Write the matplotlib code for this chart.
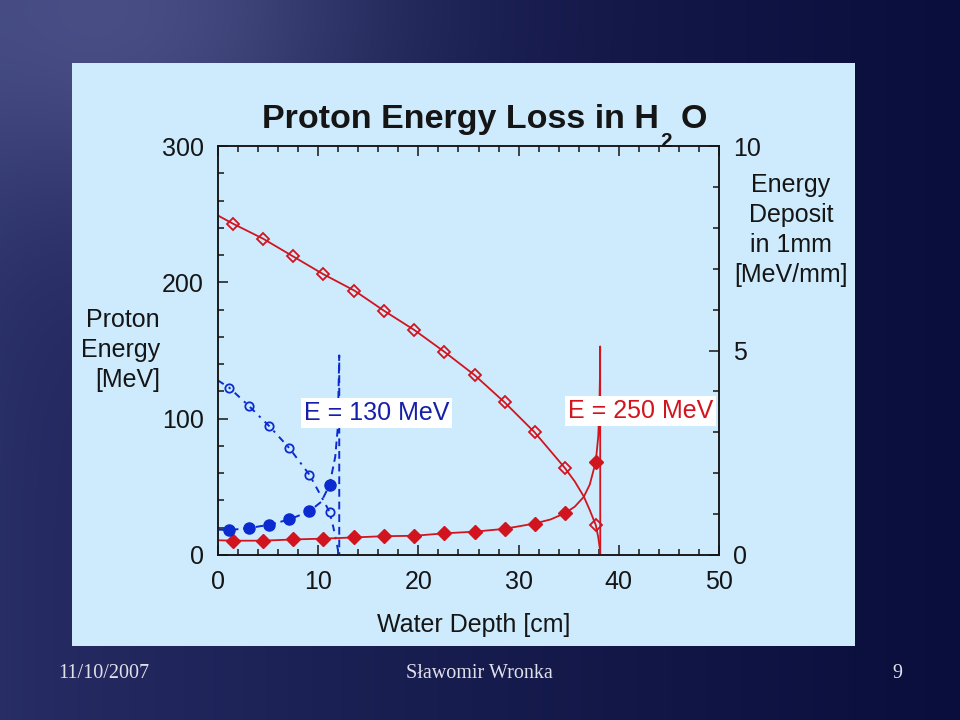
import numpy as np
import matplotlib
matplotlib.use("Agg")
import matplotlib.pyplot as plt
from matplotlib.patches import Rectangle
from matplotlib.ticker import MultipleLocator

plt.rcParams['font.family'] = ['Liberation Sans', 'DejaVu Sans']

# ---------------- data ----------------
depth_ticks = [0, 10, 20, 30, 40, 50]
energy_ticks = [0, 100, 200, 300]
deposit_ticks = [0, 5, 10]

# 250 MeV proton: residual energy [MeV] vs depth [cm]
e250_depth = [0, 1.5, 4.5, 7.5, 10.5, 13.6, 16.6, 19.6, 22.6, 25.6, 28.6,
              31.6, 34.6, 35.6, 36.5, 37.1, 37.7, 37.95, 38.1, 38.15]
e250_energy = [249, 243, 232, 219, 206, 194, 179, 165, 149, 132, 112,
               90, 64, 54, 43, 33, 22, 13, 5, 0]
e250_mark_depth = [1.5, 4.5, 7.5, 10.5, 13.6, 16.6, 19.6, 22.6, 25.6, 28.6,
                   31.6, 34.6, 37.7]
e250_mark_energy = [243, 232, 219, 206, 194, 179, 165, 149, 132, 112,
                    90, 64, 22]

# 250 MeV proton: energy deposit [MeV/mm]
d250_depth = [0, 1.5, 4.5, 7.5, 10.5, 13.6, 16.6, 19.6, 22.6, 25.6, 28.6,
              31.6, 33.2, 34.6, 35.6, 36.5, 37.1, 37.7, 37.95, 38.06, 38.12,
              38.14, 38.15]
d250_deposit = [0.36, 0.35, 0.35, 0.38, 0.40, 0.43, 0.46, 0.47, 0.53, 0.57,
                0.64, 0.77, 0.87, 1.02, 1.18, 1.42, 1.72, 2.28, 2.9, 3.6,
                4.4, 5.1, 0]
d250_mark_depth = [1.5, 4.5, 7.5, 10.5, 13.6, 16.6, 19.6, 22.6, 25.6, 28.6,
                   31.6, 34.6, 37.7]
d250_mark_deposit = [0.35, 0.35, 0.38, 0.40, 0.43, 0.46, 0.47, 0.53, 0.57,
                     0.64, 0.77, 1.02, 2.28]

# 130 MeV proton: residual energy [MeV]
e130_depth = [0, 1.13, 3.13, 5.13, 7.13, 9.13, 10.6, 11.13, 11.5, 11.85, 12.05]
e130_energy = [128, 122.7, 109, 94.4, 78.3, 58.8, 39, 31.6, 20.7, 8.8, 0]
e130_mark_depth = [1.13, 3.13, 5.13, 7.13, 9.13, 11.13]
e130_mark_energy = [122.7, 109, 94.4, 78.3, 58.8, 31.6]

# 130 MeV proton: energy deposit [MeV/mm]
d130_depth = [0, 1.13, 3.13, 5.13, 7.13, 9.13, 10.3, 11.13, 11.7, 11.95,
              12.1, 12.1]
d130_deposit = [0.62, 0.61, 0.66, 0.74, 0.87, 1.07, 1.3, 1.71, 2.4, 3.1,
                4.88, 0]
d130_mark_depth = [1.13, 3.13, 5.13, 7.13, 9.13, 11.13]
d130_mark_deposit = [0.61, 0.66, 0.74, 0.87, 1.07, 1.71]

RED = '#d2141e'
BLUE = '#0b2bd0'
TXTBLUE = '#1420a8'
PANEL = '#cdebfc'
INK = '#151515'

W, H = 960, 720
fig = plt.figure(figsize=(9.6, 7.2), dpi=100)

# ---------------- slide background ----------------
bg = fig.add_axes([0, 0, 1, 1], zorder=-10)
X, Y = np.meshgrid(np.arange(W), np.arange(H))
t = (X / W) ** 0.8
c0 = np.array([40, 46, 102.0])
c1 = np.array([10, 14, 60.0])
img = c0[None, None, :] * (1 - t[..., None]) + c1[None, None, :] * t[..., None]
glow = np.exp(-(((X - 130) / 260.0) ** 2 + ((Y - 10) / 200.0) ** 2))
img += glow[..., None] * np.array([38, 38, 38.0])[None, None, :]
img = np.clip(img / 255.0, 0, 1)
bg.imshow(img, extent=[0, W, H, 0], aspect='auto', interpolation='bilinear')
bg.add_patch(Rectangle((72, 63), 783, 583, facecolor=PANEL, edgecolor='none'))
bg.set_xlim(0, W)
bg.set_ylim(H, 0)
bg.axis('off')

# slide texts (pixel coordinates)
bg.text(262, 128, 'Proton Energy Loss in H', fontsize=24.5, fontweight='bold',
        color=INK, ha='left', va='baseline')
bg.text(660, 147, '2', fontsize=15, fontweight='bold', color=INK,
        ha='left', va='baseline')
bg.text(681, 128, 'O', fontsize=24.5, fontweight='bold', color=INK,
        ha='left', va='baseline')
bg.text(160, 350, 'Proton\nEnergy\n[MeV]', fontsize=18, color=INK,
        ha='right', va='center', multialignment='right', linespacing=1.33)
bg.text(791, 230, 'Energy\nDeposit\nin 1mm\n[MeV/mm]', fontsize=18, color=INK,
        ha='center', va='center', multialignment='center', linespacing=1.33)
bg.text(474, 625, 'Water Depth [cm]', fontsize=18, color=INK,
        ha='center', va='center')
foot = dict(fontsize=14.5, color='#e0e0ea', va='center',
            family=['Liberation Serif', 'DejaVu Serif'])
bg.text(58, 673, '11/10/2007', ha='left', **foot)
bg.text(479, 673, 'Sławomir Wronka', ha='center', **foot)
bg.text(897, 673, '9', ha='center', **foot)

# ---------------- chart ----------------
L, R, T, B = 218, 719, 146, 555
ax = fig.add_axes([L / W, 1 - B / H, (R - L) / W, (B - T) / H], zorder=2)
ax.set_facecolor('none')
ax2 = ax.twinx()
ax2.set_zorder(3)
ax2.set_facecolor('none')

ax.set_xlim(0, 50)
ax.set_ylim(0, 300)
ax2.set_ylim(0, 10)

# energy curves (left axis)
ax.plot(e250_depth, e250_energy, color=RED, lw=1.3, solid_joinstyle='round')
ax.plot(e250_mark_depth, e250_mark_energy, ls='none', marker='D', ms=6.5,
        mfc='none', mec=RED, mew=1.3)
ax.plot(e130_depth, e130_energy, color=BLUE, lw=1.4, dashes=(3.5, 3, 1.2, 3))
ax.plot(e130_mark_depth, e130_mark_energy, ls='none', marker='o', ms=6,
        mfc='none', mec=BLUE, mew=1.3)

# energy deposit curves (right axis)
ax2.plot(d250_depth, d250_deposit, color=RED, lw=1.3, solid_joinstyle='round')
ax2.plot(d250_mark_depth, d250_mark_deposit, ls='none', marker='D', ms=7.5,
         mfc=RED, mec=RED)
ax2.plot(d130_depth, d130_deposit, color=BLUE, lw=1.4, dashes=(4, 2.5))
ax2.plot(d130_mark_depth, d130_mark_deposit, ls='none', marker='o', ms=8,
         mfc=BLUE, mec=BLUE)

# labels in white boxes
box = dict(boxstyle='square,pad=0.12', facecolor='white', edgecolor='none')
ax2.text(15.8, 104, 'E = 130 MeV', transform=ax.transData, fontsize=18,
         color=TXTBLUE, ha='center', va='center', bbox=box, zorder=10)
ax2.text(42.2, 105.5, 'E = 250 MeV', transform=ax.transData, fontsize=18,
         color=RED, ha='center', va='center', bbox=box, zorder=10)

# axes / ticks
ax.set_xticks(depth_ticks)
ax.xaxis.set_minor_locator(MultipleLocator(2))
ax.set_yticks(energy_ticks)
ax.yaxis.set_minor_locator(MultipleLocator(20))
ax2.set_yticks(deposit_ticks)
ax2.yaxis.set_minor_locator(MultipleLocator(1))

ax.tick_params(axis='x', which='both', direction='in', top=True, bottom=True,
               labelsize=18, labelcolor=INK, color=INK, pad=11, width=1.1)
ax.tick_params(axis='y', which='both', direction='in', left=True, right=False,
               labelsize=18, labelcolor=INK, color=INK, pad=10, width=1.1)
ax.tick_params(which='major', length=7)
ax.tick_params(which='minor', length=4)
ax2.tick_params(axis='y', which='both', direction='in', left=False, right=True,
                labelsize=18, labelcolor=INK, color=INK, pad=10, width=1.1)
ax2.tick_params(axis='y', which='major', length=7)
ax2.tick_params(axis='y', which='minor', length=4)
ax2.tick_params(axis='x', which='both', bottom=False, top=False,
                labelbottom=False)

for a in (ax, ax2):
    for s in a.spines.values():
        s.set_color(INK)
        s.set_linewidth(1.1)

fig.savefig('out.png', dpi=100)
